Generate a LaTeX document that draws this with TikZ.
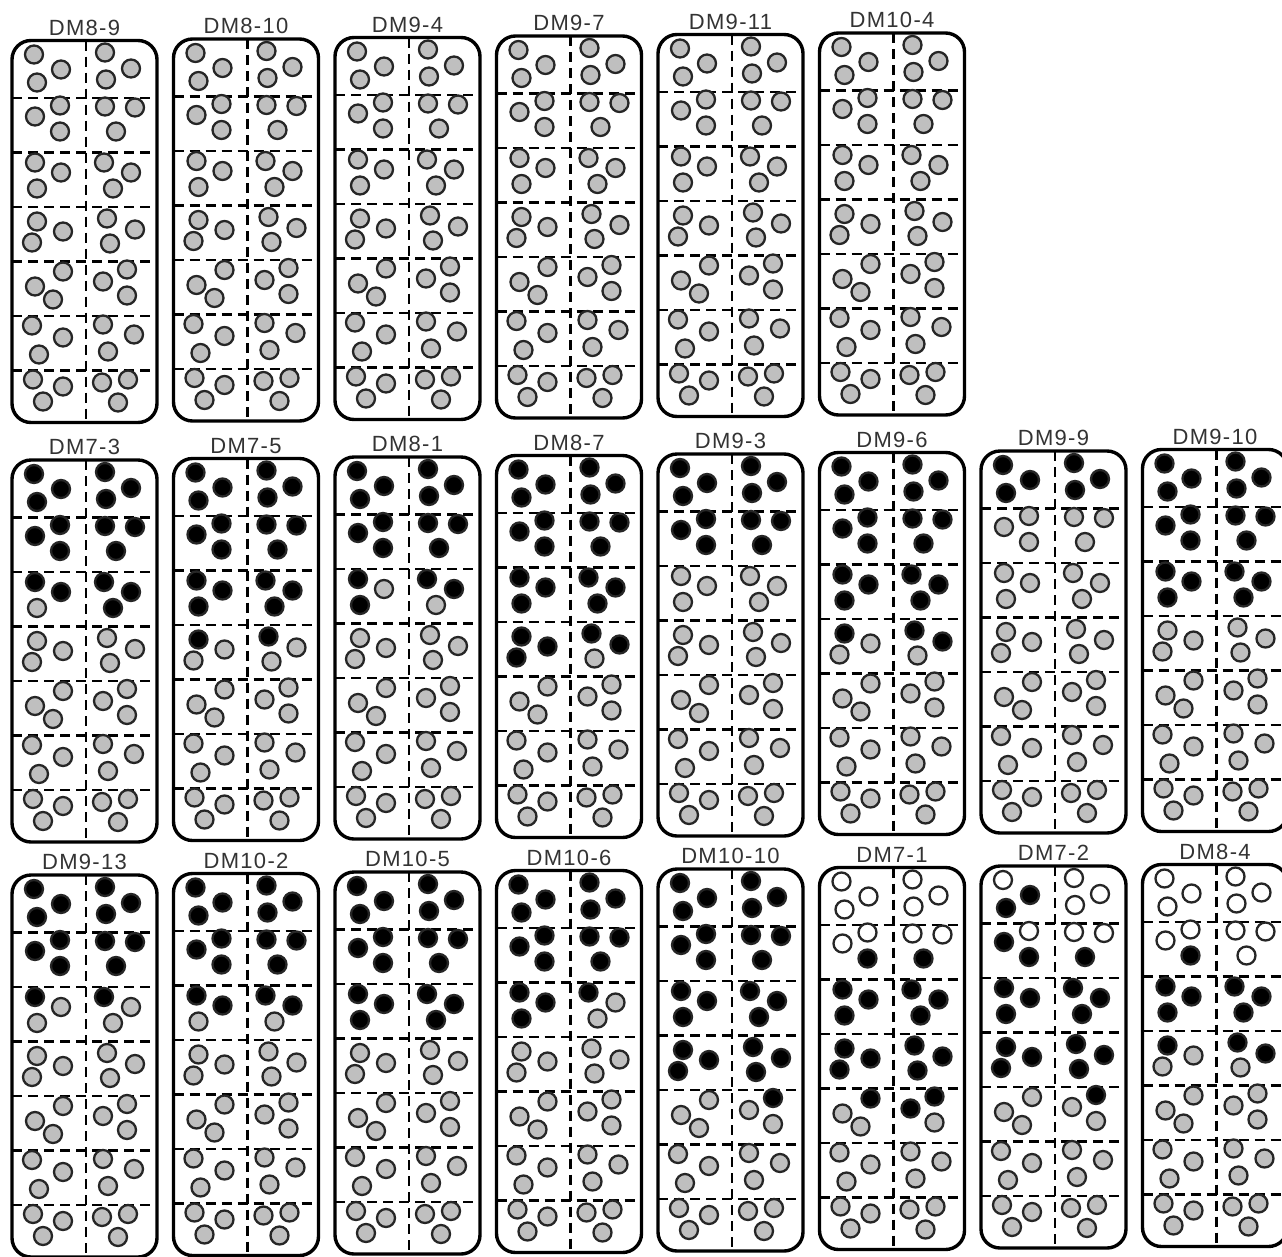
\documentclass[tikz,border=0pt]{standalone}
\usepackage{fontspec}
\usepackage{tikz}
\usetikzlibrary{positioning}
\newfontfamily\tagfont[LetterSpace=6]{Liberation Sans}

\colorlet{seedg}{black!25}
\colorlet{seedb}{black}
\colorlet{seedw}{white}

% seed centres inside a plate, three per cell, cells row by row (left, right)
\def\seedx{{22,49,25, 93,119,94, 23,48,48, 93,123,104, 23,49,25, 92,119,101,
  25,51,20, 95,123,98, 51,23,41, 91,115,115, 20,51,27, 91,122,96,
  21,51,31, 90,116,106}}
\def\seedy{{14,29,42, 12,28,39, 76,65,91, 66,67,91, 122,132,148, 122,132,148,
  181,191,202, 178,189,203, 231,246,259, 241,229,255, 285,297,314, 284,294,311,
  339,346,361, 342,339,362}}
\def\splitcode#1#2#3{\def\fa{#1}\def\fb{#2}\def\fc{#3}}

% plate: name, x, y, tag, cell codes
\newcommand{\seedplate}[5]{%
  \node[plate] (#1) at (#2,#3) {};
  \node[platetag, above=5pt of #1] (#1-tag) {#4};
  \begin{scope}[shift={(#1.north west)}]
    \foreach \yline in {57.5,112,166.5,221,275.5,330}
      \draw[divider] (0,\yline) -- (145,\yline);
    \draw[divider] (74,0) -- (74,382);
    \foreach \code [count=\k from 0] in {#5} {
      \expandafter\splitcode\code
      \foreach \j/\f in {0/\fa,1/\fb,2/\fc} {
        \pgfmathsetmacro\sx{\seedx[3*\k+\j]}
        \pgfmathsetmacro\sy{\seedy[3*\k+\j]}
        \draw[seed, fill=seed\f] (\sx,\sy) circle[radius=9pt];
      }
    }
  \end{scope}
  \draw[line width=3.4pt, rounded corners=19pt] (#1.north west) rectangle (#1.south east);
}

\begin{document}
\begin{tikzpicture}[x=1pt, y=-1pt,
    plate/.style={line width=3.4pt, minimum width=145pt, minimum height=382pt, inner sep=0pt, outer sep=0pt, anchor=north west},
    platetag/.style={font={\tagfont\fontsize{22}{22}\selectfont}, inner sep=0pt, text=black!80},
    divider/.style={line width=2.4pt, dash pattern=on 10pt off 6pt},
    seed/.style={line width=2.3pt, draw=black!85}
]
\useasboundingbox (0,0) rectangle (1282,1256);

% top row
\seedplate{dm8-9}{12}{40.5}{DM8-9}{ggg,ggg, ggg,ggg, ggg,ggg, ggg,ggg, ggg,ggg, ggg,ggg, ggg,ggg}
\seedplate{dm8-10}{173.5}{39}{DM8-10}{ggg,ggg, ggg,ggg, ggg,ggg, ggg,ggg, ggg,ggg, ggg,ggg, ggg,ggg}
\seedplate{dm9-4}{335}{37.5}{DM9-4}{ggg,ggg, ggg,ggg, ggg,ggg, ggg,ggg, ggg,ggg, ggg,ggg, ggg,ggg}
\seedplate{dm9-7}{496.5}{36}{DM9-7}{ggg,ggg, ggg,ggg, ggg,ggg, ggg,ggg, ggg,ggg, ggg,ggg, ggg,ggg}
\seedplate{dm9-11}{658}{34.5}{DM9-11}{ggg,ggg, ggg,ggg, ggg,ggg, ggg,ggg, ggg,ggg, ggg,ggg, ggg,ggg}
\seedplate{dm10-4}{819.5}{33}{DM10-4}{ggg,ggg, ggg,ggg, ggg,ggg, ggg,ggg, ggg,ggg, ggg,ggg, ggg,ggg}

% middle row
\seedplate{dm7-3}{12}{460}{DM7-3}{bbb,bbb, bbb,bbb, bbg,bbb, ggg,ggg, ggg,ggg, ggg,ggg, ggg,ggg}
\seedplate{dm7-5}{173.5}{458.5}{DM7-5}{bbb,bbb, bbb,bbb, bbb,bbb, bgg,bgg, ggg,ggg, ggg,ggg, ggg,ggg}
\seedplate{dm8-1}{335}{457}{DM8-1}{bbb,bbb, bbb,bbb, bgb,bbg, ggg,ggg, ggg,ggg, ggg,ggg, ggg,ggg}
\seedplate{dm8-7}{496.5}{455.5}{DM8-7}{bbb,bbb, bbb,bbb, bbb,bbb, bbb,bbg, ggg,ggg, ggg,ggg, ggg,ggg}
\seedplate{dm9-3}{658}{454}{DM9-3}{bbb,bbb, bbb,bbb, ggg,ggg, ggg,ggg, ggg,ggg, ggg,ggg, ggg,ggg}
\seedplate{dm9-6}{819.5}{452.5}{DM9-6}{bbb,bbb, bbb,bbb, bbb,bbb, bgg,bbg, ggg,ggg, ggg,ggg, ggg,ggg}
\seedplate{dm9-9}{981}{451}{DM9-9}{bbb,bbb, ggg,ggg, ggg,ggg, ggg,ggg, ggg,ggg, ggg,ggg, ggg,ggg}
\seedplate{dm9-10}{1142.5}{449.5}{DM9-10}{bbb,bbb, bbb,bbb, bbb,bbb, ggg,ggg, ggg,ggg, ggg,ggg, ggg,ggg}

% bottom row
\seedplate{dm9-13}{12}{875}{DM9-13}{bbb,bbb, bbb,bbb, bgg,bgg, ggg,ggg, ggg,ggg, ggg,ggg, ggg,ggg}
\seedplate{dm10-2}{173.5}{873.5}{DM10-2}{bbb,bbb, bbb,bbb, bbg,bbg, ggg,ggg, ggg,ggg, ggg,ggg, ggg,ggg}
\seedplate{dm10-5}{335}{872}{DM10-5}{bbb,bbb, bbb,bbb, bbb,bbb, ggg,ggg, ggg,ggg, ggg,ggg, ggg,ggg}
\seedplate{dm10-6}{496.5}{870.5}{DM10-6}{bbb,bbb, bbb,bbb, bbb,bgg, ggg,ggg, ggg,ggg, ggg,ggg, ggg,ggg}
\seedplate{dm10-10}{658}{869}{DM10-10}{bbb,bbb, bbb,bbb, bbb,bbb, bbb,bbb, ggg,gbg, ggg,ggg, ggg,ggg}
\seedplate{dm7-1}{819.5}{867.5}{DM7-1}{www,www, wwb,wwb, bbb,bbb, bbb,bbb, bgg,bbg, ggg,ggg, ggg,ggg}
\seedplate{dm7-2}{981}{866}{DM7-2}{wbb,www, bwb,wwb, bbb,bbb, bbb,bbb, ggg,gbg, ggg,ggg, ggg,ggg}
\seedplate{dm8-4}{1142.5}{864.5}{DM8-4}{www,www, wwb,www, bbb,bbb, bgg,bbg, ggg,ggg, ggg,ggg, ggg,ggg}
\end{tikzpicture}
\end{document}
